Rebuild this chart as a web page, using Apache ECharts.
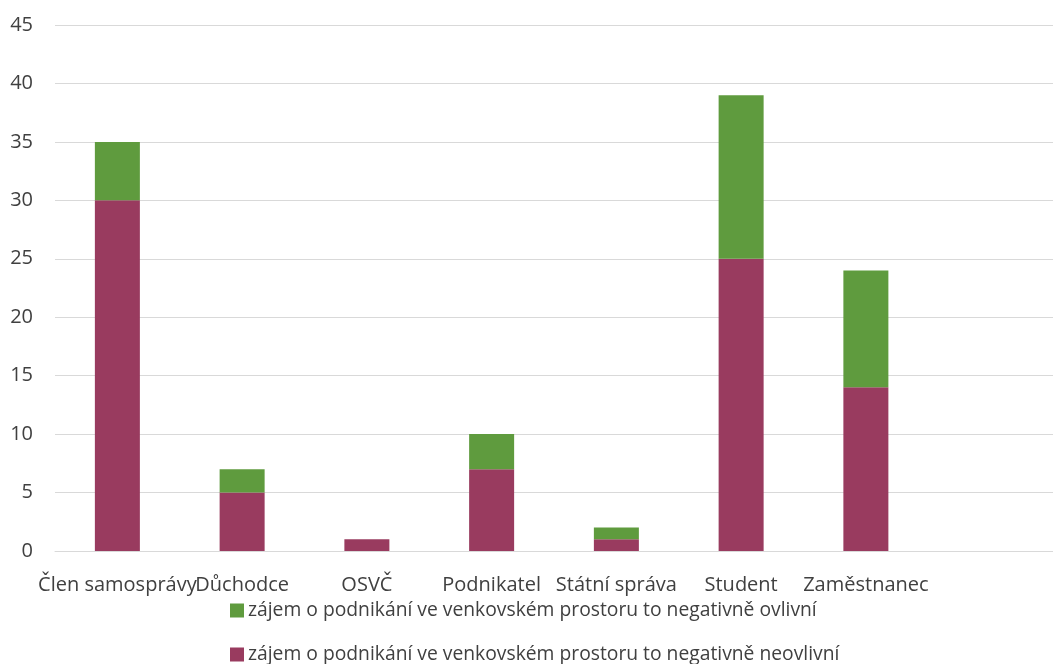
<!DOCTYPE html>
<html>
<head>
<meta charset="utf-8">
<script src="https://cdn.jsdelivr.net/npm/echarts@6/dist/echarts.min.js"></script>
<style>html,body{margin:0;padding:0;background:#fff;}#c{width:1053px;height:664px;}</style>
</head>
<body>
<div id="c"></div>
<script>
const categories = ["Člen samosprávy", "Důchodce", "OSVČ", "Podnikatel", "Státní správa", "Student", "Zaměstnanec", ""];
const seriesNames = ["zájem o podnikání ve venkovském prostoru to negativně ovlivní", "zájem o podnikání ve venkovském prostoru to negativně neovlivní"];
const negVals = [5, 2, 0, 3, 1, 14, 10, null];
const nonNegVals = [30, 5, 1, 7, 1, 25, 14, null];

const chart = echarts.init(document.getElementById('c'), null, {renderer: 'canvas'});
const txt = '#404040';
const font = 'Open Sans';
const legendBase = {
  orient: 'horizontal', left: 230, itemWidth: 14, itemHeight: 14, icon: 'rect',
  itemGap: 4, padding: 0,
  textStyle: {color: txt, fontSize: 19.3, fontFamily: font, padding: [0, 0, 0, -1]}
};
chart.setOption({
  animation: false,
  grid: {left: 55, top: 25, bottom: 113, width: 1008, containLabel: false},
  legend: [
    Object.assign({}, legendBase, {top: 601, data: [seriesNames[0]]}),
    Object.assign({}, legendBase, {top: 645, data: [seriesNames[1]]})
  ],
  xAxis: {
    type: 'category', data: categories,
    axisLine: {lineStyle: {color: '#d9d9d9', width: 1}},
    axisTick: {show: false},
    axisLabel: {color: txt, fontSize: 20, fontFamily: font, margin: 24, interval: 0}
  },
  yAxis: {
    type: 'value', min: 0, max: 45, interval: 5,
    axisLine: {show: false}, axisTick: {show: false},
    splitLine: {lineStyle: {color: '#d9d9d9', width: 1}},
    axisLabel: {color: txt, fontSize: 20, fontFamily: font, margin: 22}
  },
  series: [
    {name: seriesNames[1], type: 'bar', stack: 's', data: nonNegVals, barWidth: 45,
     itemStyle: {color: '#993b5f'}},
    {name: seriesNames[0], type: 'bar', stack: 's', data: negVals, barWidth: 45,
     itemStyle: {color: '#5f9b3e'}}
  ]
});
</script>
</body>
</html>
